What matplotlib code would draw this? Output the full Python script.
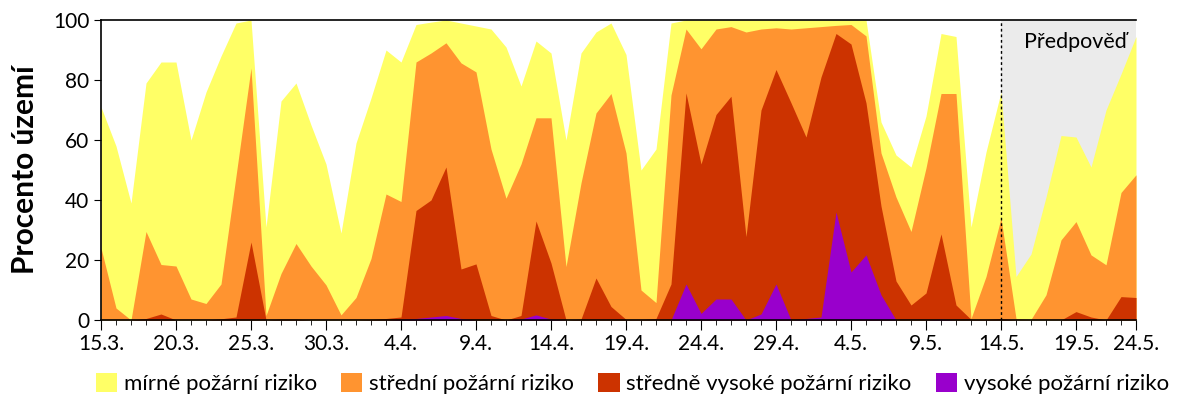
import matplotlib as mpl
import numpy as np
import matplotlib.pyplot as plt
from matplotlib.patches import Patch

mpl.use("Agg")
plt.rcParams['font.family'] = ['Lato', 'DejaVu Sans']

# procento uzemi s rizikem alespon dane urovne, denne od 15.3. (den 0) do 23.5.
mirne_a_vyssi = [71, 58, 39, 79, 86, 86, 60, 76, 88, 99,
                 100, 31, 73, 79, 65, 52, 29, 59, 74, 90,
                 86, 98.5, 99.3, 100, 99, 98, 97, 91, 78, 93,
                 89, 60, 89, 96, 99, 88.5, 50, 57, 99, 100,
                 100, 100, 100, 100, 100, 100, 100, 100, 100, 100,
                 100, 100, 66, 55, 51, 68, 95.5, 94.5, 31, 56,
                 76, 14.5, 22, 41, 61.5, 61, 51, 70, 82, 94.5]
stredni_a_vyssi = [24, 4, 0, 29.5, 18.5, 18, 7, 5.5, 12, 48,
                   84, 1.5, 15.5, 25.5, 18, 11.7, 1.7, 7.5, 20.5, 42,
                   39.5, 86, 89, 92.4, 85.7, 82.7, 57, 40.6, 52, 67.4,
                   67.4, 17.8, 45.7, 69, 75.5, 55.7, 10, 5.8, 75, 97,
                   90.4, 97, 97.8, 96, 97, 97.4, 97, 97.4, 97.8, 98.2,
                   98.5, 94.7, 55.7, 41, 29.5, 50.7, 75.5, 75.5, 0.5, 14.5,
                   34, 0.5, 0.2, 8.4, 26.7, 32.8, 21.7, 18.4, 42.5, 48.4]
stredne_vysoke_a_vyssi = [0, 0, 0, 0.5, 2, 0, 0, 0, 0.4, 1,
                          26, 0, 0.3, 0.3, 0, 0, 0, 0, 0.2, 0.5,
                          1, 36.5, 40, 51, 17, 18.7, 1.5, 0, 1.5, 33,
                          19, 0, 0.3, 14, 4.5, 0.2, 0.2, 0.5, 12, 75.7,
                          52, 68.5, 74.6, 27.8, 70, 83.5, 72.4, 61, 81, 95.5,
                          92, 72.4, 38, 13, 5, 9, 28.7, 5, 0.2, 0.2,
                          0.5, 0, 0, 0, 0, 2.8, 1, 0, 7.8, 7.5]
vysoke = [0, 0, 0, 0, 0, 0, 0, 0, 0, 0,
          0, 0, 0, 0, 0, 0, 0, 0, 0, 0,
          0.2, 0.5, 1, 1.5, 0.5, 0, 0, 0, 0.3, 1.7,
          0.3, 0, 0, 0, 0, 0, 0, 0, 0, 12,
          2.2, 7, 7, 0, 2, 12, 0, 0.5, 1, 36,
          16, 21.7, 8.4, 0, 0, 0, 0.3, 0, 0, 0,
          0, 0, 0, 0, 0, 0, 0, 0, 0, 0]

nazvy = ['mírné požární riziko', 'střední požární riziko',
         'středně vysoké požární riziko', 'vysoké požární riziko']
barvy = ['#FFFF66', '#FF9430', '#CC3300', '#9900CC']

tick_dny = [0, 5, 10, 15, 20, 25, 30, 35, 40, 45, 50, 55, 60, 65, 69]
tick_popisky = ['15.3.', '20.3.', '25.3.', '30.3.', '4.4.', '9.4.', '14.4.',
                '19.4.', '24.4.', '29.4.', '4.5.', '9.5.', '14.5.', '19.5.', '24.5.']
zacatek_predpovedi = 60


def main():
    dny = np.arange(len(mirne_a_vyssi))
    fig = plt.figure(figsize=(12, 4), dpi=100)
    ax = fig.add_axes([101 / 1200, 0.2, 1035 / 1200, 0.75])

    # sede pozadi predpovedi
    ax.axvspan(zacatek_predpovedi, dny[-1], color='#EBEBEB', zorder=0, lw=0)

    # kazdou vrstvu kreslim od nuly, aby mezi plochami nebyly svetle spary
    for vrstva, barva in zip([mirne_a_vyssi, stredni_a_vyssi, stredne_vysoke_a_vyssi, vysoke], barvy):
        ax.fill_between(dny, 0, vrstva, color=barva, lw=0, zorder=1)

    ax.axvline(zacatek_predpovedi, color='black', ls=(0, (2, 2)), lw=1, zorder=3)
    ax.text(zacatek_predpovedi + 1.5, 92.5, 'Předpověď', fontsize=15.5, va='center', ha='left')

    ax.set_xlim(0, dny[-1])
    ax.set_ylim(0, 100)
    ax.set_xticks(tick_dny)
    ax.set_xticklabels(tick_popisky, fontsize=15)
    ax.set_xticks(dny, minor=True)
    ax.set_yticks([0, 20, 40, 60, 80, 100])
    ax.tick_params(axis='y', labelsize=15, length=5, direction='out')
    ax.tick_params(axis='x', which='major', length=7, direction='out', pad=3)
    ax.tick_params(axis='x', which='minor', length=3.5, direction='out')
    ax.spines['right'].set_visible(False)
    for s in ['left', 'bottom', 'top']:
        ax.spines[s].set_linewidth(1.2)
        ax.spines[s].set_zorder(4)
    ax.set_ylabel('Procento území', fontsize=21.5, fontweight='bold', labelpad=10)

    handles = [Patch(facecolor=b, edgecolor='none') for b in barvy]
    fig.legend(handles, nazvy, loc='center', bbox_to_anchor=(0.527, 0.042), ncol=4,
               frameon=False, fontsize=16, handlelength=0.95, handleheight=0.95,
               handletextpad=0.3, columnspacing=1.1, borderpad=0, borderaxespad=0)

    fig.savefig('out.png', dpi=100)


if __name__ == "__main__":
    main()
